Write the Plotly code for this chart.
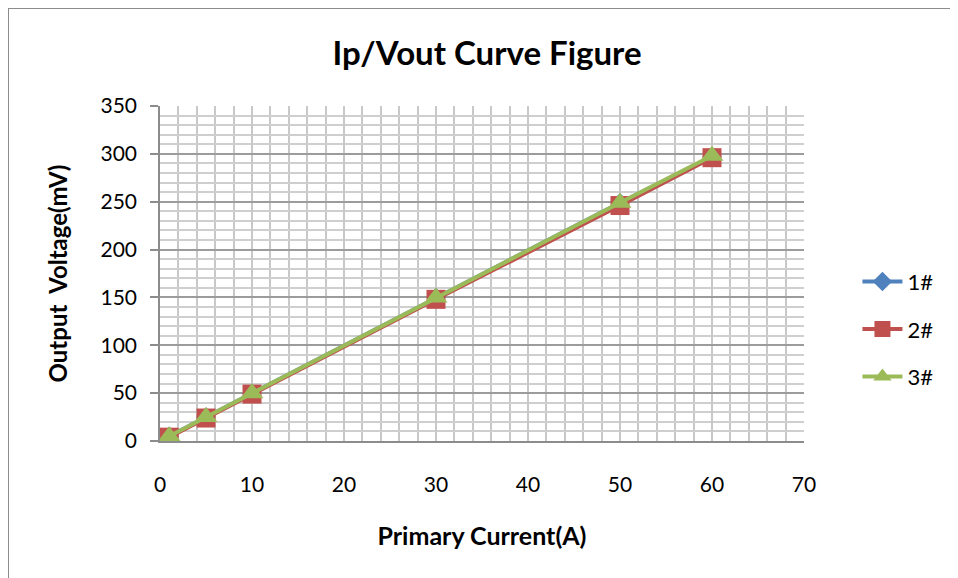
import plotly.graph_objects as go

current = [1, 5, 10, 30, 50, 60]
s1 = [5, 25, 50, 150, 249, 297]
s2 = [4, 24, 49, 148, 246, 296]
s3 = [5, 25, 50, 150, 249, 298]
names = ["1#", "2#", "3#"]

FONT = "Lato, 'Open Sans', sans-serif"

# page body has an 8px offset; plot area target (page px): x 160..804, y 106..441
L, T, PW, PH = 152, 98, 644, 335

fig = go.Figure()
fig.add_trace(go.Scatter(x=current, y=s1, name=names[0], mode="lines+markers", legendgroup="a",
                         line=dict(color="#4F81BD", width=4),
                         marker=dict(symbol="diamond", size=15, color="#4F81BD")))
fig.add_trace(go.Scatter(x=current, y=s2, name=names[1], mode="lines+markers", legendgroup="b",
                         line=dict(color="#C0504D", width=4),
                         marker=dict(symbol="square", size=19, color="#C0504D")))
fig.add_trace(go.Scatter(x=current, y=s3, name=names[2], mode="lines+markers", legendgroup="c",
                         line=dict(color="#9BBB59", width=4),
                         marker=dict(symbol="triangle-up", size=20, color="#9BBB59")))

fig.update_layout(
    width=958, height=578,
    margin=dict(l=L, r=958 - L - PW, t=T, b=578 - T - PH),
    paper_bgcolor="white", plot_bgcolor="white",
    font=dict(family=FONT, color="#000000", size=21),
    title=dict(text="<b>Ip/Vout Curve Figure</b>", x=0.5, xanchor="center",
               y=1 - 45 / 578, yanchor="middle",
               font=dict(family=FONT, size=33, color="#000")),
    legend=dict(x=1.083, xanchor="left", y=0.334, yanchor="middle",
                font=dict(size=22), tracegroupgap=16, itemwidth=40),
    showlegend=True,
)
fig.update_xaxes(
    range=[0, 70], dtick=10, tick0=0,
    showgrid=True, gridcolor="#C8C8C8", gridwidth=1.5,
    minor=dict(dtick=2, showgrid=True, gridcolor="#C8C8C8", gridwidth=1.5),
    showline=True, linecolor="#8C8C8C", linewidth=1.5,
    ticks="", ticklabelstandoff=24,
    zeroline=False,
    title=dict(text="<b>Primary Current(A)</b>", font=dict(size=25), standoff=33),
)
fig.update_yaxes(
    range=[0, 350], dtick=50, tick0=0,
    showgrid=True, gridcolor="#9C9C9C", gridwidth=1.5,
    minor=dict(dtick=10, showgrid=True, gridcolor="#CFCFCF", gridwidth=1.5),
    showline=True, linecolor="#8C8C8C", linewidth=1.5,
    ticks="outside", ticklen=8, tickcolor="#8C8C8C", tickwidth=1.5,
    ticklabelstandoff=9,
    zeroline=False,
    title=dict(text="<b>Output  Voltage(mV)</b>", font=dict(size=24), standoff=26),
)

# outer chart frame (left and top edges visible in the reference)
fx = (0 - L) / PW
fy = (PH + T) / PH
fig.add_shape(type="line", xref="paper", yref="paper",
              x0=fx, x1=(1000 - L) / PW, y0=fy, y1=fy,
              line=dict(color="#8C8C8C", width=2))
fig.add_shape(type="line", xref="paper", yref="paper",
              x0=fx, x1=fx, y0=fy, y1=(PH + T - 600) / PH,
              line=dict(color="#8C8C8C", width=2))

fig.write_html("out.html")
